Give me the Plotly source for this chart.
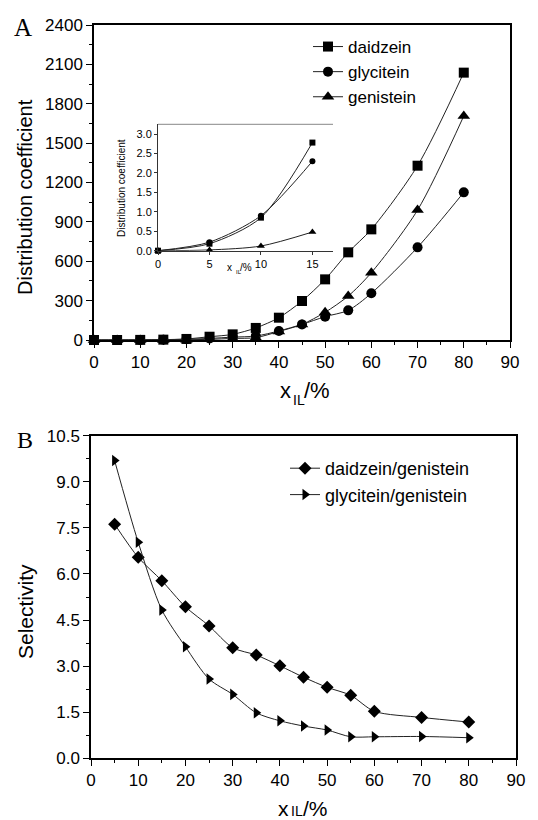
import plotly.graph_objects as go

# ---- data: panel A (distribution coefficient) ----
x_a = [0, 5, 10, 15, 20, 25, 30, 35, 40, 45, 50, 55, 60, 70, 80]
daidzein = [0.0, 0.18, 0.85, 2.78, 8, 25, 43, 92, 170, 297, 462, 668, 843, 1328, 2037]
glycitein = [0.0, 0.22, 0.90, 2.30, 6, 12, 22, 30, 69, 119, 178, 226, 356, 706, 1125]
genistein = [0.0, 0.02, 0.12, 0.48, 2, 5, 12, 18, 65, 119, 211, 335, 513, 990, 1707]

# inset uses the low-concentration points
n_inset = 4

# ---- data: panel B (selectivity) ----
x_b = [5, 10, 15, 20, 25, 30, 35, 40, 45, 50, 55, 60, 70, 80]
sel_dg = [7.62, 6.54, 5.78, 4.93, 4.31, 3.60, 3.36, 3.01, 2.64, 2.31, 2.05, 1.53, 1.33, 1.18]
sel_gg = [9.69, 7.03, 4.83, 3.63, 2.58, 2.08, 1.48, 1.22, 1.05, 0.92, 0.70, 0.70, 0.71, 0.67]

names_a = ["daidzein", "glycitein", "genistein"]
names_b = ["daidzein/genistein", "glycitein/genistein"]

# the page body has an 8px default margin, so the figure is sized to fit the window
OFF = 8
W, H = 538 - OFF, 820 - OFF
FONT = "Liberation Sans, Arial, sans-serif"
SERIF = "Liberation Serif, Times New Roman, serif"
LC = "#222222"

def px_x(p):
    return (p - OFF) / W

def px_y(p):
    return 1 - (p - OFF) / H

fig = go.Figure()

series_a = [(daidzein, "square", 10), (glycitein, "circle", 10), (genistein, "triangle-up", 11)]
for (vals, sym, sz), nm in zip(series_a, names_a):
    fig.add_trace(go.Scatter(
        x=x_a, y=vals, name=nm, mode="lines+markers",
        line=dict(color=LC, width=1, shape="spline", smoothing=0.8),
        marker=dict(symbol=sym, size=sz, color="black"),
        xaxis="x", yaxis="y", legend="legend", cliponaxis=False))

for (vals, sym, sz), nm in zip(series_a, names_a):
    fig.add_trace(go.Scatter(
        x=x_a[:n_inset], y=vals[:n_inset], name=nm, mode="lines+markers",
        line=dict(color=LC, width=1, shape="spline", smoothing=0.8),
        marker=dict(symbol=sym, size=sz - 4, color="black"),
        xaxis="x3", yaxis="y3", showlegend=False, cliponaxis=False))

series_b = [(sel_dg, "diamond", 10), (sel_gg, "triangle-right", 10)]
for (vals, sym, sz), nm in zip(series_b, names_b):
    fig.add_trace(go.Scatter(
        x=x_b, y=vals, name=nm, mode="lines+markers",
        line=dict(color=LC, width=1, shape="spline", smoothing=0.8),
        marker=dict(symbol=sym, size=sz, color="black"),
        xaxis="x2", yaxis="y2", legend="legend2", cliponaxis=False))

axis_common = dict(showline=True, linecolor="black", linewidth=1.5, mirror=True,
                   ticks="outside", ticklen=6, tickwidth=1.3, tickcolor="black",
                   showgrid=False, zeroline=False, automargin=False,
                   tickfont=dict(family=FONT, size=17, color="black"))
minor_common = dict(ticklen=3, ticks="outside", tickcolor="black", tickwidth=1.2)
inset_common = dict(showline=True, linecolor="#333", linewidth=1, mirror=False,
                    ticks="outside", ticklen=3, tickcolor="#333", showgrid=False,
                    zeroline=False, automargin=False,
                    tickfont=dict(family=FONT, size=11, color="black"))

fig.update_layout(
    template="none",
    width=W, height=H,
    margin=dict(l=0, r=0, t=0, b=0, pad=0, autoexpand=False),
    paper_bgcolor="white", plot_bgcolor="white",
    font=dict(family=FONT, color="black"),
    xaxis=dict(domain=[px_x(94), px_x(510)], range=[0, 90], tick0=0, dtick=10,
               minor=dict(dtick=5, **minor_common), anchor="y", **axis_common),
    yaxis=dict(domain=[px_y(340), px_y(25)], range=[0, 2400], tick0=0, dtick=300,
               minor=dict(dtick=150, **minor_common), anchor="x", **axis_common),
    xaxis2=dict(domain=[px_x(91), px_x(516)], range=[0, 90], tick0=0, dtick=10,
                minor=dict(dtick=5, **minor_common), anchor="y2", **axis_common),
    yaxis2=dict(domain=[px_y(758.3), px_y(435.7)], range=[0, 10.5], tick0=0, dtick=1.5,
                tickformat=".1f", minor=dict(dtick=0.75, **minor_common),
                anchor="x2", **axis_common),
    xaxis3=dict(domain=[px_x(158), px_x(333)], range=[0, 17], tick0=0, dtick=5,
                anchor="y3", **inset_common),
    yaxis3=dict(domain=[px_y(250.7), px_y(124.3)], range=[0, 3.25], tick0=0, dtick=0.5,
                tickformat=".1f", anchor="x3", **inset_common),
    legend=dict(x=px_x(308), y=px_y(29), xanchor="left", yanchor="top",
                bgcolor="rgba(0,0,0,0)", font=dict(family=FONT, size=17, color="black"),
                tracegroupgap=0, itemwidth=30),
    legend2=dict(x=px_x(285), y=px_y(450), xanchor="left", yanchor="top",
                 bgcolor="rgba(0,0,0,0)", font=dict(family=FONT, size=18, color="black"),
                 tracegroupgap=0, itemwidth=30),
    showlegend=True,
)

# top border of the inset (light grey)
fig.add_shape(type="line", xref="x3 domain", yref="y3 domain", x0=0, x1=1, y0=1, y1=1,
              line=dict(color="#888888", width=1))

def ann(text, x, y, size, family=FONT, xanchor="center", angle=0):
    fig.add_annotation(xref="paper", yref="paper", showarrow=False, text=text,
                       x=px_x(x), y=px_y(y), xanchor=xanchor, yanchor="middle",
                       textangle=angle, font=dict(family=family, size=size, color="black"))

ann("A", 23, 27, 25, SERIF)
ann("B", 25, 440, 24, SERIF)
ann("Distribution coefficient", 25, 197, 20, angle=-90)
ann("Selectivity", 25, 612, 21, angle=-90)
ann("Distribution coefficient", 121, 188, 10, angle=-90)

# x_IL/% titles (x, subscript IL, /%)
ann("x", 293, 390, 22, xanchor="right")
ann("IL", 291, 400, 14, xanchor="left")
ann("/%", 302, 390, 22, xanchor="left")

ann("x", 291, 808, 21, xanchor="right")
ann("IL", 289, 811, 14, xanchor="left")
ann("/%", 301, 808, 21, xanchor="left")

ann("x", 234, 267, 10, xanchor="right")
ann("IL", 233.5, 272, 6, xanchor="left")
ann("/%", 238, 267, 10, xanchor="left")

fig.write_html("out.html")
